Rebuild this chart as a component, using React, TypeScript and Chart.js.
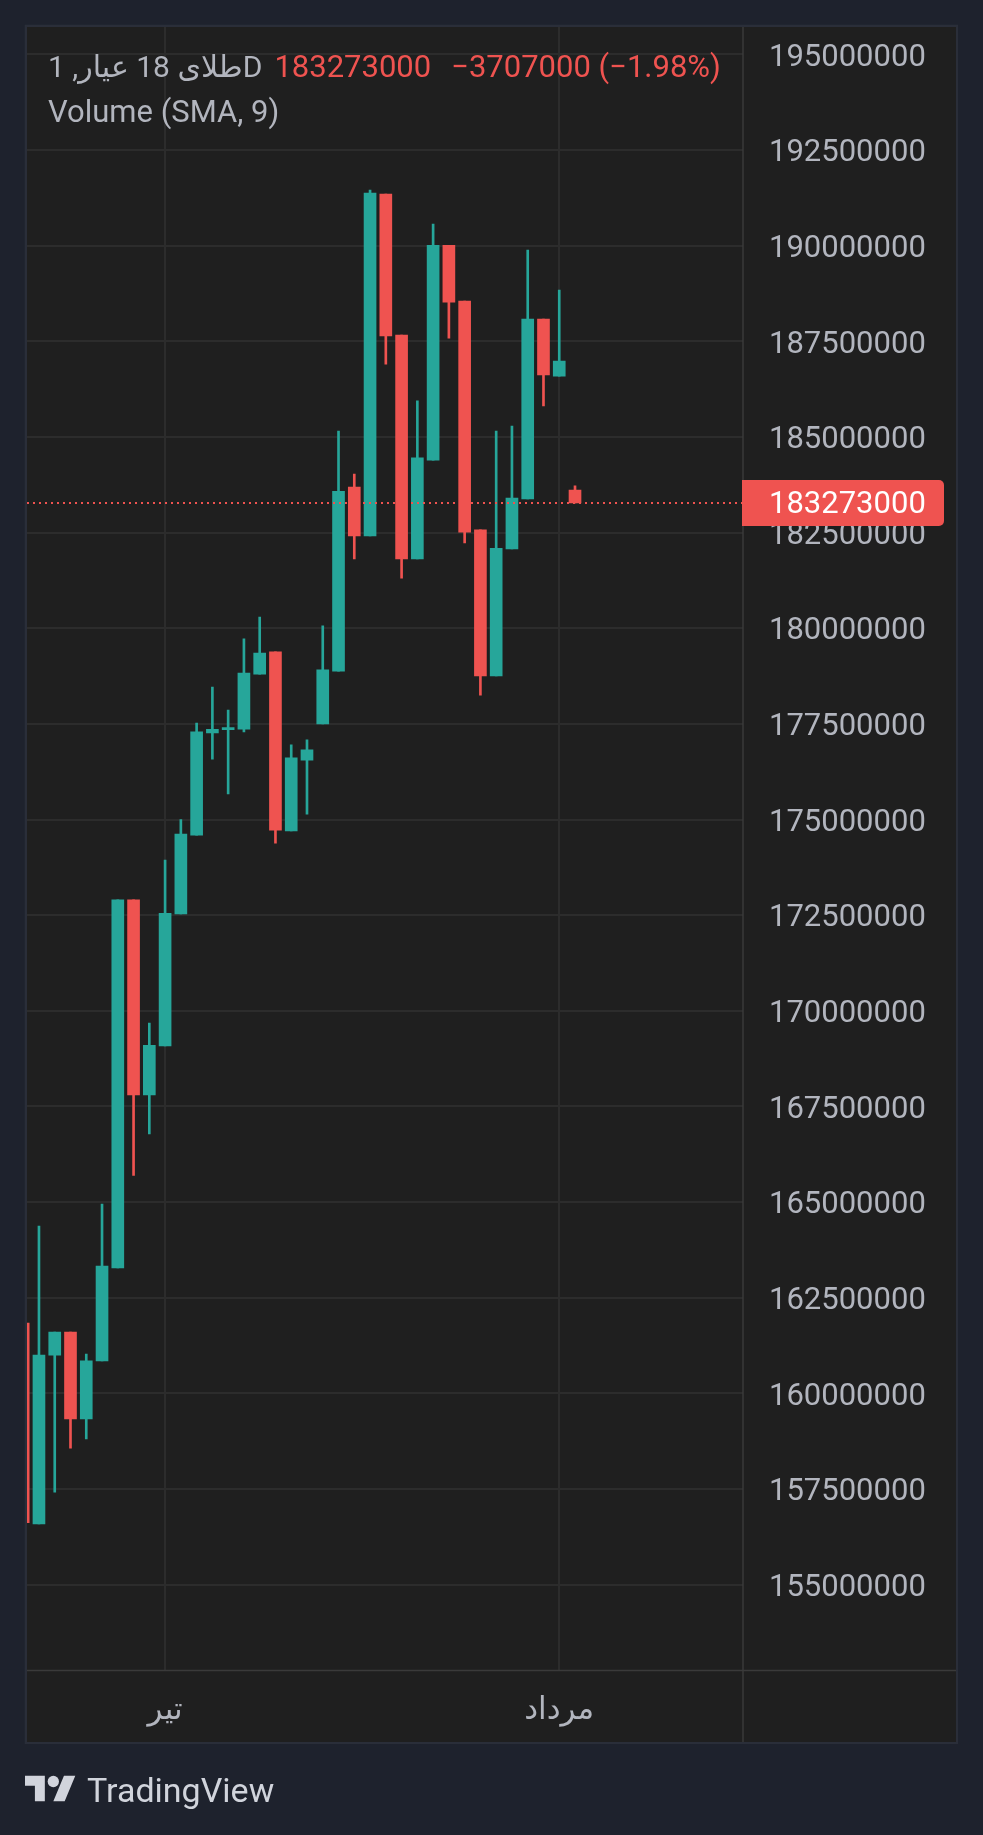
import React, { useEffect, useRef } from "react";
import { Chart, registerables } from "chart.js";

Chart.register(...registerables);

// ---- data ----
const opens = [161840000, 156590000, 161000000, 161600000, 159330000, 160850000, 163280000, 172900000, 167800000, 169080000, 172530000, 174590000, 177260000, 177350000, 177360000, 178800000, 179380000, 174700000, 176550000, 177500000, 178880000, 183690000, 182410000, 191350000, 187660000, 181810000, 184390000, 190010000, 188550000, 182570000, 178750000, 182070000, 183380000, 188080000, 186590000, 183610000];
const highs = [161840000, 164370000, 161600000, 161600000, 161030000, 164950000, 172900000, 172900000, 169680000, 173940000, 175000000, 177520000, 178460000, 177860000, 179720000, 180290000, 179380000, 176950000, 177080000, 180060000, 185150000, 184030000, 191450000, 191350000, 187660000, 185940000, 190560000, 190010000, 188550000, 182570000, 185150000, 185280000, 189880000, 188080000, 188840000, 183720000];
const lows = [156620000, 156590000, 157420000, 158570000, 158810000, 160850000, 163280000, 165700000, 166780000, 169080000, 172530000, 174590000, 176580000, 175670000, 177290000, 178800000, 174380000, 174700000, 175140000, 177500000, 178880000, 181810000, 182410000, 186900000, 181310000, 181810000, 184390000, 187580000, 182230000, 178250000, 178750000, 182070000, 183380000, 185810000, 186590000, 183273000];
const closes = [156620000, 161000000, 161600000, 159330000, 160850000, 163330000, 172900000, 167800000, 169100000, 172550000, 174620000, 177290000, 177360000, 177400000, 178830000, 179350000, 174720000, 176610000, 176820000, 178910000, 183580000, 182410000, 191370000, 187640000, 181810000, 184450000, 190010000, 188520000, 182510000, 178750000, 182090000, 183400000, 188080000, 186620000, 186980000, 183273000];

const yTicks = [155000000, 157500000, 160000000, 162500000, 165000000, 167500000, 170000000, 172500000, 175000000, 177500000, 180000000, 182500000, 185000000, 187500000, 190000000, 192500000, 195000000];
const monthTicks = [9, 34];
const monthLabels = ["تیر", "مرداد"];

const lastPrice = 183273000;
const priceChange = -3707000;
const priceChangePct = -1.98;
const symbolTitle = "طلای 18 عیار, 1D";
const indicatorTitle = "Volume (SMA, 9)";

// ---- view range / styles ----
const Y_MIN = 152757000;
const Y_MAX = 195714000;
const X_MIN = 0.241;
const X_MAX = 45.655;

const W = 983;
const H = 1835;
const PAD = { left: 27, top: 27, right: 27, bottom: 93 };
const Y_AXIS_W = 213;
const X_AXIS_H = 71.5;

const UP = "#26a69a";
const DOWN = "#ef5350";
const GRID = "#2c2c2c";
const SEP = "#3a3a3a";
const TEXT = "#b2b5be";
const PAGE_BG = "#1e222d";
const PANEL_BG = "#1f1f1f";
const PANEL_BORDER = "#2a2e39";
const FONT = 'Roboto, "DejaVu Sans", sans-serif';
const FONT_SIZE = 31;

const candleColors = opens.map((o, i) => (closes[i] >= o ? UP : DOWN));

const fmtSigned = (v: number, digits?: number) =>
  (v < 0 ? "\u2212" : "+") + (digits === undefined ? String(Math.abs(v)) : Math.abs(v).toFixed(digits));

const panelPlugin = {
  id: "panel",
  beforeDraw(chart: any) {
    const { ctx, chartArea } = chart;
    const left = chartArea.left;
    const top = chartArea.top;
    const right = chartArea.right + Y_AXIS_W;
    const bottom = chartArea.bottom + X_AXIS_H;
    ctx.save();
    ctx.fillStyle = PAGE_BG;
    ctx.fillRect(0, 0, chart.width, chart.height);
    ctx.fillStyle = PANEL_BORDER;
    ctx.fillRect(left - 2.3, top - 2.3, right - left + 4.3, bottom - top + 4.3);
    ctx.fillStyle = PANEL_BG;
    ctx.fillRect(left, top, right - left, bottom - top);
    ctx.restore();
  },
  beforeDatasetsDraw(chart: any) {
    const { ctx, chartArea } = chart;
    const right = chartArea.right + Y_AXIS_W;
    const bottom = chartArea.bottom + X_AXIS_H;
    ctx.save();
    ctx.strokeStyle = SEP;
    ctx.lineWidth = 1.5;
    ctx.beginPath();
    ctx.moveTo(chartArea.right, chartArea.top);
    ctx.lineTo(chartArea.right, bottom);
    ctx.moveTo(chartArea.left, chartArea.bottom);
    ctx.lineTo(right, chartArea.bottom);
    ctx.stroke();
    ctx.restore();
  },
  afterDatasetsDraw(chart: any) {
    const { ctx, chartArea } = chart;
    const y = chart.scales.y.getPixelForValue(lastPrice);
    ctx.save();
    ctx.strokeStyle = DOWN;
    ctx.lineWidth = 2;
    ctx.setLineDash([2, 4]);
    ctx.beginPath();
    ctx.moveTo(chartArea.left, y);
    ctx.lineTo(chartArea.right, y);
    ctx.stroke();
    ctx.restore();
  },
  afterDraw(chart: any) {
    const { ctx, chartArea } = chart;
    const y = chart.scales.y.getPixelForValue(lastPrice);
    const x0 = chartArea.right - 1;
    const w = 202;
    const h = 46;
    ctx.save();
    ctx.fillStyle = DOWN;
    ctx.beginPath();
    if ((ctx as any).roundRect) {
      (ctx as any).roundRect(x0, y - h / 2, w, h, [0, 5, 5, 0]);
    } else {
      ctx.rect(x0, y - h / 2, w, h);
    }
    ctx.fill();
    ctx.fillStyle = "#ffffff";
    ctx.font = `${FONT_SIZE}px ${FONT}`;
    ctx.textAlign = "left";
    ctx.textBaseline = "middle";
    ctx.fillText(String(lastPrice), chartArea.right + 26, y + 2);
    ctx.restore();
  },
};

export default function App() {
  const canvasRef = useRef<HTMLCanvasElement | null>(null);

  useEffect(() => {
    const canvas = canvasRef.current;
    if (!canvas) return;
    const idx = opens.map((_, i) => i);
    const chart = new Chart(canvas, {
      type: "bar",
      data: {
        datasets: [
          {
            label: "body",
            data: idx.map((i) => ({ x: i, y: [opens[i], closes[i]] })) as any,
            backgroundColor: candleColors,
            borderWidth: 0,
            borderSkipped: false,
            barThickness: 12,
            grouped: false,
            order: 0,
            clip: 0,
          } as any,
          {
            label: "wick",
            data: idx.map((i) => ({ x: i, y: [lows[i], highs[i]] })) as any,
            backgroundColor: candleColors,
            borderWidth: 0,
            borderSkipped: false,
            barThickness: 2,
            grouped: false,
            order: 1,
            clip: 0,
          } as any,
        ],
      },
      options: {
        animation: false,
        responsive: false,
        events: [],
        layout: { padding: PAD },
        plugins: {
          legend: { display: false },
          tooltip: { enabled: false },
        },
        scales: {
          x: {
            type: "linear",
            position: "bottom",
            min: X_MIN,
            max: X_MAX,
            offset: false,
            bounds: "data",
            grid: { color: GRID, lineWidth: 2, drawTicks: false, offset: false },
            border: { display: false },
            ticks: {
              color: TEXT,
              font: { family: FONT, size: FONT_SIZE },
              padding: 22,
              autoSkip: false,
              maxRotation: 0,
              minRotation: 0,
              callback: (_v: any, i: number) => monthLabels[i],
            },
            afterBuildTicks: (s: any) => {
              s.ticks = monthTicks.map((v) => ({ value: v }));
            },
            afterFit: (s: any) => {
              s.height = X_AXIS_H;
              s.paddingLeft = 0;
              s.paddingRight = 0;
            },
          } as any,
          y: {
            type: "linear",
            position: "right",
            min: Y_MIN,
            max: Y_MAX,
            bounds: "data",
            grid: { color: GRID, lineWidth: 2, drawTicks: false },
            border: { display: false },
            ticks: {
              color: TEXT,
              font: { family: FONT, size: FONT_SIZE },
              padding: 26,
              labelOffset: 3.5,
              autoSkip: false,
              callback: (v: any) => String(v),
            },
            afterBuildTicks: (s: any) => {
              s.ticks = yTicks.map((v) => ({ value: v }));
            },
            afterFit: (s: any) => {
              s.width = Y_AXIS_W;
              s.paddingTop = 0;
              s.paddingBottom = 0;
            },
          } as any,
        },
      },
      plugins: [panelPlugin as any],
    });
    return () => chart.destroy();
  }, []);

  const red = DOWN;
  return (
    <div style={{ position: "absolute", left: 0, top: 0, width: W, height: H, overflow: "hidden", background: PAGE_BG }}>
      <canvas ref={canvasRef} width={W} height={H} style={{ position: "absolute", left: 0, top: 0, width: W, height: H }} />
      <div
        style={{
          position: "absolute",
          left: 48,
          top: 44,
          fontFamily: FONT,
          fontSize: FONT_SIZE,
          lineHeight: "45px",
          color: TEXT,
          whiteSpace: "nowrap",
          pointerEvents: "none",
        }}
      >
        <div>
          <span style={{ unicodeBidi: "isolate", fontSize: 30 }}>{symbolTitle}</span>
          <span style={{ color: red, marginLeft: 12 }}>{String(lastPrice)}</span>
          <span style={{ color: red, marginLeft: 20 }}>
            {fmtSigned(priceChange)} ({fmtSigned(priceChangePct, 2)}%)
          </span>
        </div>
        <div>{indicatorTitle}</div>
      </div>
      <svg
        width={51}
        height={40}
        viewBox="0 0 36 28"
        style={{ position: "absolute", left: 25, top: 1770 }}
        fill="#d1d4dc"
      >
        <path d="M14 22H7V11H0V4h14v18zM28 22h-8l7.5-18h8L28 22z" />
        <circle cx="20" cy="8" r="4" />
      </svg>
      <div
        style={{
          position: "absolute",
          left: 87,
          top: 1773,
          fontFamily: FONT,
          fontSize: 34,
          lineHeight: "34px",
          color: "#d1d4dc",
          whiteSpace: "nowrap",
        }}
      >
        TradingView
      </div>
    </div>
  );
}
